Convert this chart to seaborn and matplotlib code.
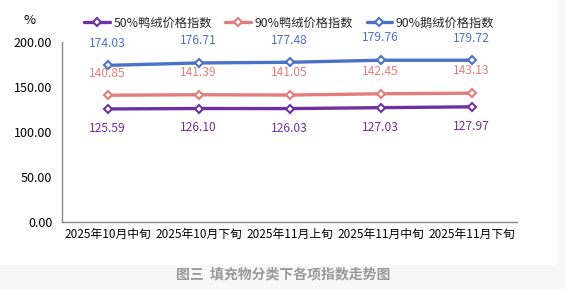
import matplotlib
matplotlib.use("Agg")
import matplotlib.pyplot as plt
import seaborn as sns
import pandas as pd
from matplotlib.ticker import FixedLocator

categories = ["2025年10月中旬", "2025年10月下旬", "2025年11月上旬", "2025年11月中旬", "2025年11月下旬"]
duck50 = [125.59, 126.10, 126.03, 127.03, 127.97]
duck90 = [140.85, 141.39, 141.05, 142.45, 143.13]
goose90 = [174.03, 176.71, 177.48, 179.76, 179.72]
series_names = ["50%鸭绒价格指数", "90%鸭绒价格指数", "90%鹅绒价格指数"]
colors = ["#7030A0", "#E57C7C", "#4A72C8"]
yticks = [0, 50, 100, 150, 200]

sns.set_theme(style="white")
plt.rcParams['font.family'] = ['Noto Sans CJK SC', 'DejaVu Sans']

df = pd.DataFrame({"cat": categories * 3,
                   "val": duck50 + duck90 + goose90,
                   "series": sum([[n] * len(categories) for n in series_names], [])})

fig = plt.figure(figsize=(5.66, 2.89), dpi=100, facecolor="#f8f8f8")
bg = fig.add_axes([0, 1 - 265/289, 558/566, 265/289])
bg.set_facecolor("white")
bg.set_xticks([])
bg.set_yticks([])
for s in bg.spines.values():
    s.set_visible(False)

ax = fig.add_axes([62/566, 1 - 222/289, (517-62)/566, (222-42)/289])
ax.set_facecolor("none")

sns.lineplot(data=df, x="cat", y="val", hue="series", palette=colors, ax=ax,
             marker="D", markersize=4.3, markeredgewidth=1.5,
             linewidth=2.4, sort=False)
for line, col in zip(ax.lines, colors):
    line.set_markerfacecolor("white")
    line.set_markeredgecolor(col)

ax.set_ylim(0, 200)
ax.set_xlim(-0.5, 4.5)
ax.set_yticks(yticks)
ax.set_yticklabels([f"{v:.2f}" for v in yticks], fontsize=9, color="black")
ax.set_xticks(range(len(categories)))
ax.set_xticklabels(categories, fontsize=8.5, color="black")
ax.xaxis.set_minor_locator(FixedLocator([i - 0.5 for i in range(len(categories) + 1)]))
ax.tick_params(axis="x", which="major", length=0, pad=4)
ax.tick_params(axis="x", which="minor", length=4, color="#888888", width=1, direction="out")
ax.tick_params(axis="y", length=4, color="#888888", width=1, direction="out", pad=3)
ax.set_xlabel("")
ax.set_ylabel("")
for s in ["top", "right"]:
    ax.spines[s].set_visible(False)
for s in ["left", "bottom"]:
    ax.spines[s].set_color("#888888")
    ax.spines[s].set_linewidth(1)

offsets = [-14, 16, 16]
for vals, col, off in zip([duck50, duck90, goose90], colors, offsets):
    for i, v in enumerate(vals):
        ax.annotate(f"{v:.2f}", (i, v), xytext=(0, off), textcoords="offset points",
                    ha="center", va="center", fontsize=8.7, color=col)

leg = ax.legend(loc="lower left", bbox_to_anchor=(22/455, 1.07), ncol=3, frameon=False,
                fontsize=8.8, handlelength=2.1, columnspacing=1.1, handletextpad=0.3,
                borderaxespad=0, borderpad=0)
for h, col in zip(leg.legend_handles, colors):
    h.set_markerfacecolor("white")
    h.set_markeredgecolor(col)
    h.set_markersize(4.3)
    h.set_markeredgewidth(1.5)

fig.text(30/566, 1 - 20/289, "%", ha="center", va="center", fontsize=9.5, color="black")
fig.text(283/566, 1 - 274/289, "图三  填充物分类下各项指数走势图", ha="center", va="center",
         fontsize=10, color="#999999", fontweight="bold")

fig.savefig("out.png", dpi=100, facecolor=fig.get_facecolor())
